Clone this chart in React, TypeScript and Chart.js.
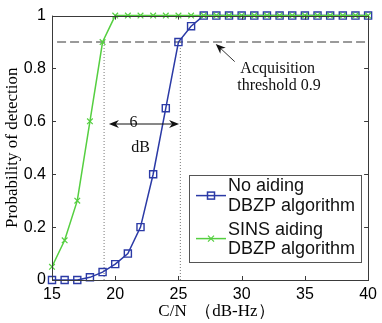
import React, { useEffect, useRef } from 'react';
import { Chart, registerables } from 'chart.js';

Chart.register(...registerables);

// ---- data ----
const cnValues = [15, 16, 17, 18, 19, 20, 21, 22, 23, 24, 25, 26, 27, 28, 29, 30, 31, 32, 33, 34, 35, 36, 37, 38, 39, 40];
const noAiding = [0, 0, 0, 0.01, 0.03, 0.06, 0.1, 0.2, 0.4, 0.65, 0.9, 0.96, 1, 1, 1, 1, 1, 1, 1, 1, 1, 1, 1, 1, 1, 1];
const sinsAiding = [0.05, 0.15, 0.3, 0.6, 0.9, 1, 1, 1, 1, 1, 1, 1, 1, 1, 1, 1, 1, 1, 1, 1, 1, 1, 1, 1, 1, 1];
const xTicks = [15, 20, 25, 30, 35, 40];
const yTicks = [0, 0.2, 0.4, 0.6, 0.8, 1];
const yTickLabels = ['0', '0.2', '0.4', '0.6', '0.8', '1'];
const thresholdLine = [{ x: 15.4, y: 0.9 }, { x: 40, y: 0.9 }];
const dotLine19 = [{ x: 19.12, y: 0 }, { x: 19.12, y: 0.9 }];
const dotLine25 = [{ x: 25.15, y: 0 }, { x: 25.15, y: 0.9 }];
const seriesNames = [['No aiding', 'DBZP algorithm'], ['SINS aiding', 'DBZP algorithm']];
const thresholdText = ['Acquisition', 'threshold 0.9'];
const gapText = ['6', 'dB'];

const BLUE = '#2b3aa6';
const GREEN = '#55cf40';

const overlayPlugin = {
  id: 'overlay',
  afterDatasetsDraw(chart: any) {
    const ctx = chart.ctx;
    const xs = chart.scales.x;
    const ys = chart.scales.y;
    const a = chart.chartArea;
    const px = (v: number) => xs.getPixelForValue(v);
    const py = (v: number) => ys.getPixelForValue(v);
    ctx.save();

    // box
    ctx.strokeStyle = '#3a3a3a';
    ctx.lineWidth = 1;
    ctx.strokeRect(Math.round(a.left) + 0.5, Math.round(a.top) + 0.5, Math.round(a.right - a.left), Math.round(a.bottom - a.top));
    // inner ticks
    ctx.beginPath();
    xTicks.forEach((t) => {
      const x = Math.round(px(t)) + 0.5;
      ctx.moveTo(x, a.bottom); ctx.lineTo(x, a.bottom - 4);
      ctx.moveTo(x, a.top); ctx.lineTo(x, a.top + 4);
    });
    yTicks.forEach((t) => {
      const y = Math.round(py(t)) + 0.5;
      ctx.moveTo(a.left, y); ctx.lineTo(a.left + 4, y);
      ctx.moveTo(a.right, y); ctx.lineTo(a.right - 4, y);
    });
    ctx.stroke();

    // gap arrow "6 dB"
    const ax1 = px(19.5), ax2 = px(25.05), ay = py(0.59);
    ctx.strokeStyle = '#111';
    ctx.fillStyle = '#111';
    ctx.lineWidth = 1;
    ctx.beginPath();
    ctx.moveTo(ax1 + 4, ay); ctx.lineTo(ax2 - 4, ay);
    ctx.stroke();
    const head = (x: number, y: number, dir: number) => {
      ctx.beginPath();
      ctx.moveTo(x, y);
      ctx.lineTo(x - dir * 10, y - 4);
      ctx.lineTo(x - dir * 7, y);
      ctx.lineTo(x - dir * 10, y + 4);
      ctx.closePath();
      ctx.fill();
    };
    head(ax1, ay, -1);
    head(ax2, ay, 1);

    ctx.font = '16px "Liberation Serif", "Times New Roman", serif';
    ctx.textAlign = 'center';
    ctx.textBaseline = 'middle';
    ctx.fillText(gapText[0], px(21.45), py(0.595));
    ctx.fillText(gapText[1], px(22.0), py(0.5));

    // threshold annotation
    ctx.fillText(thresholdText[0], px(32.85), py(0.8));
    ctx.fillText(thresholdText[1], px(32.95), py(0.733));
    const tx = px(27.95), ty = py(0.893), sx = px(29.45), sy = py(0.826);
    const ang = Math.atan2(ty - sy, tx - sx);
    ctx.strokeStyle = '#333';
    ctx.beginPath();
    ctx.moveTo(sx, sy);
    ctx.lineTo(tx - Math.cos(ang) * 6, ty - Math.sin(ang) * 6);
    ctx.stroke();
    ctx.beginPath();
    ctx.moveTo(tx, ty);
    ctx.lineTo(tx - Math.cos(ang) * 10 + Math.sin(ang) * 4, ty - Math.sin(ang) * 10 - Math.cos(ang) * 4);
    ctx.lineTo(tx - Math.cos(ang) * 7, ty - Math.sin(ang) * 7);
    ctx.lineTo(tx - Math.cos(ang) * 10 - Math.sin(ang) * 4, ty - Math.sin(ang) * 10 + Math.cos(ang) * 4);
    ctx.closePath();
    ctx.fillStyle = '#111';
    ctx.fill();

    // legend
    const lx = a.left + 137, ly = a.top + 159, lw = 172, lh = 87;
    ctx.fillStyle = '#fff';
    ctx.fillRect(lx, ly, lw, lh);
    ctx.strokeStyle = '#555';
    ctx.lineWidth = 1;
    ctx.strokeRect(Math.round(lx) + 0.5, Math.round(ly) + 0.5, lw, lh);
    const rows = [
      { color: BLUE, style: 'rect', y: ly + 21, t1: ly + 11, t2: ly + 31 },
      { color: GREEN, style: 'cross', y: ly + 64, t1: ly + 55, t2: ly + 74 },
    ];
    ctx.font = '18px "Liberation Sans", Arial, sans-serif';
    ctx.textAlign = 'left';
    rows.forEach((r, i) => {
      ctx.strokeStyle = r.color;
      ctx.lineWidth = 1.5;
      ctx.beginPath();
      ctx.moveTo(lx + 7, r.y); ctx.lineTo(lx + 37, r.y);
      ctx.stroke();
      const cx = lx + 22;
      if (r.style === 'rect') {
        ctx.strokeRect(cx - 3.5, r.y - 3.5, 7, 7);
      } else {
        ctx.lineWidth = 1.2;
        ctx.beginPath();
        ctx.moveTo(cx - 3, r.y - 3); ctx.lineTo(cx + 3, r.y + 3);
        ctx.moveTo(cx - 3, r.y + 3); ctx.lineTo(cx + 3, r.y - 3);
        ctx.stroke();
      }
      ctx.fillStyle = '#111';
      ctx.fillText(seriesNames[i][0], lx + 39, r.t1);
      ctx.fillText(seriesNames[i][1], lx + 39, r.t2);
    });
    ctx.restore();
  },
};

export default function App() {
  const ref = useRef<HTMLCanvasElement | null>(null);
  useEffect(() => {
    document.body.style.margin = '0';
    const canvas = ref.current;
    if (!canvas) return;
    const chart = new Chart(canvas, {
      type: 'scatter',
      data: {
        datasets: [
          {
            label: 'SINS aiding DBZP algorithm',
            data: cnValues.map((x, i) => ({ x, y: sinsAiding[i] })),
            showLine: true,
            clip: false,
            borderColor: GREEN,
            backgroundColor: GREEN,
            borderWidth: 1.5,
            pointStyle: 'crossRot',
            pointRadius: 4,
            pointBorderWidth: 1.2,
            pointBorderColor: GREEN,
            order: 0,
          },
          {
            label: 'No aiding DBZP algorithm',
            data: cnValues.map((x, i) => ({ x, y: noAiding[i] })),
            showLine: true,
            clip: false,
            borderColor: BLUE,
            backgroundColor: 'rgba(0,0,0,0)',
            borderWidth: 1.5,
            pointStyle: 'rect',
            pointRadius: 5,
            pointBorderWidth: 1.4,
            pointBorderColor: BLUE,
            order: 1,
          },
          {
            label: 'threshold',
            data: thresholdLine,
            showLine: true,
            borderColor: '#7a7a7a',
            borderWidth: 1.5,
            borderDash: [9, 4],
            pointRadius: 0,
            order: 3,
          },
          {
            label: 'd19',
            data: dotLine19,
            showLine: true,
            borderColor: '#777',
            borderWidth: 1,
            borderDash: [1, 2],
            pointRadius: 0,
            order: 4,
          },
          {
            label: 'd25',
            data: dotLine25,
            showLine: true,
            borderColor: '#777',
            borderWidth: 1,
            borderDash: [1, 2],
            pointRadius: 0,
            order: 4,
          },
        ],
      },
      options: {
        responsive: false,
        animation: false,
        layout: { padding: { left: 0, right: 9, top: 13, bottom: 0 } },
        plugins: { legend: { display: false }, tooltip: { enabled: false } },
        scales: {
          x: {
            type: 'linear',
            min: 15,
            max: 40,
            afterFit: (s: any) => { s.height = 43; },
            afterBuildTicks: (s: any) => { s.ticks = xTicks.map((v) => ({ value: v })); },
            grid: { display: false, drawTicks: false },
            border: { display: false },
            ticks: {
              padding: 5,
              color: '#000',
              font: { family: '"Liberation Sans", Arial, sans-serif', size: 16 },
            },
            title: {
              display: true,
              text: '\u00a0\u00a0\u00a0C/N  （dB-Hz）',
              color: '#000',
              padding: { top: 0, bottom: 1 },
              font: { family: '"Liberation Serif", "Times New Roman", serif', size: 17 },
            },
          },
          y: {
            type: 'linear',
            min: 0,
            max: 1,
            afterFit: (s: any) => { s.width = 52; },
            afterBuildTicks: (s: any) => { s.ticks = yTicks.map((v) => ({ value: v })); },
            grid: { display: false, drawTicks: false },
            border: { display: false },
            ticks: {
              padding: 6,
              color: '#000',
              font: { family: '"Liberation Sans", Arial, sans-serif', size: 16 },
              callback: (v: any) => yTickLabels[yTicks.indexOf(Number(v))] ?? '',
            },
            title: {
              display: true,
              text: 'Probability of detection',
              color: '#000',
              padding: { top: 2, bottom: 0 },
              font: { family: '"Liberation Serif", "Times New Roman", serif', size: 17 },
            },
          },
        },
      },
      plugins: [overlayPlugin],
    });
    return () => chart.destroy();
  }, []);
  return (
    <div style={{ position: 'absolute', left: 0, top: 0, width: 382, height: 323, background: '#fff' }}>
      <canvas ref={ref} width={382} height={323} />
    </div>
  );
}
